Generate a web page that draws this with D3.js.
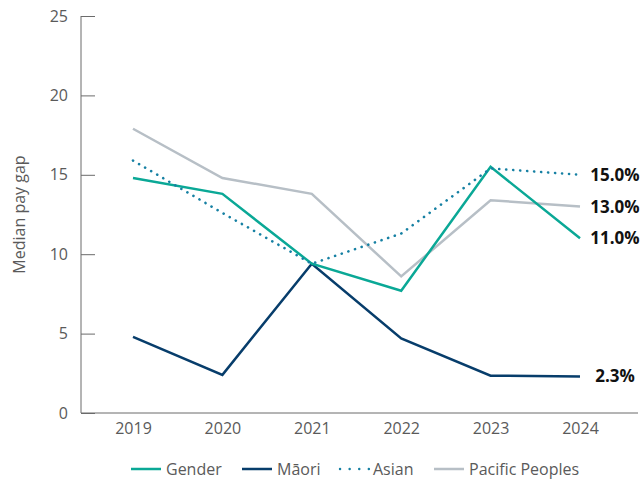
<!DOCTYPE html>
<html>
<head>
<meta charset="utf-8">
<script src="https://cdn.jsdelivr.net/npm/d3@7"></script>
<style>
  html, body { margin: 0; padding: 0; background: #fff; }
  svg { display: block; font-family: "Open Sans", "Noto Sans", sans-serif; }
</style>
</head>
<body>
<svg id="chart" width="643" height="479"></svg>
<script>
// Median pay gap by group, 2019–2024
const years = [2019, 2020, 2021, 2022, 2023, 2024];
const gender = [14.8, 13.8, 9.4, 7.7, 15.5, 11.0];
const maori = [4.8, 2.4, 9.4, 4.7, 2.35, 2.3];
const asian = [15.9, 12.6, 9.4, 11.3, 15.4, 15.0];
const pacific = [17.9, 14.8, 13.8, 8.6, 13.4, 13.0];
const yTicks = [0, 5, 10, 15, 20, 25];
const endLabels = ["11.0%", "2.3%", "15.0%", "13.0%"];

const series = [
  { name: "Gender", values: gender, color: "#0aa896", dash: null, label: endLabels[0] },
  { name: "Māori", values: maori, color: "#073d6b", dash: null, label: endLabels[1] },
  { name: "Asian", values: asian, color: "#1680a3", dash: "0.1,6.9", label: endLabels[2] },
  { name: "Pacific Peoples", values: pacific, color: "#b7bfc6", dash: null, label: endLabels[3] }
];

const svg = d3.select("#chart");
const plotLeft = 81, plotTop = 16, plotBottom = 413, axisRight = 638;

const x = d3.scaleLinear().domain([2019, 2024]).range([133, 580]);
const y = d3.scaleLinear().domain([0, 25]).range([plotBottom, plotTop]);

// y axis: line plus inward ticks
const yAxis = svg.append("g").attr("transform", `translate(${plotLeft},0)`)
  .call(d3.axisRight(y).tickValues(yTicks).tickSize(14).tickFormat(""));
yAxis.select(".domain").remove();
yAxis.selectAll(".tick line").attr("stroke", "#6b6b6b").attr("stroke-width", 1);
svg.append("line").attr("x1", plotLeft).attr("x2", plotLeft).attr("y1", plotTop).attr("y2", plotBottom)
  .attr("stroke", "#6b6b6b").attr("stroke-width", 1);
svg.append("g").selectAll("text").data(yTicks).join("text")
  .attr("x", 68).attr("y", d => y(d)).attr("dy", "0.35em")
  .attr("text-anchor", "end").attr("font-size", 16).attr("fill", "#5a5a5a")
  .text(d => d);

// x axis
svg.append("line").attr("x1", plotLeft).attr("x2", axisRight).attr("y1", plotBottom).attr("y2", plotBottom)
  .attr("stroke", "#6b6b6b").attr("stroke-width", 1);
const xAxis = svg.append("g").attr("transform", `translate(0,${plotBottom})`)
  .call(d3.axisBottom(x).tickValues(years).tickSize(0).tickPadding(10).tickFormat(d3.format("d")));
xAxis.select(".domain").remove();
xAxis.selectAll("text").attr("font-size", 16).attr("fill", "#5a5a5a")
  .attr("font-family", "'Open Sans', sans-serif");

// y axis title
svg.append("text")
  .attr("transform", `translate(25,${(plotTop + plotBottom) / 2}) rotate(-90)`)
  .attr("text-anchor", "middle").attr("font-size", 16).attr("fill", "#5a5a5a")
  .text("Median pay gap");

// lines
const line = d3.line().x((d, i) => x(years[i])).y(d => y(d));
const drawOrder = [series[3], series[1], series[0], series[2]];
svg.append("g").selectAll("path").data(drawOrder).join("path")
  .attr("d", s => line(s.values))
  .attr("fill", "none")
  .attr("stroke", s => s.color)
  .attr("stroke-width", s => s.dash ? 2.6 : 2.5)
  .attr("stroke-linecap", s => s.dash ? "round" : "butt")
  .attr("stroke-linejoin", "miter")
  .attr("stroke-dasharray", s => s.dash);

// end-of-line value labels
svg.append("g").selectAll("text").data(series).join("text")
  .attr("x", x(2024) + 35)
  .attr("y", s => y(s.values[s.values.length - 1]))
  .attr("dy", "0.35em")
  .attr("text-anchor", "middle")
  .attr("font-size", 17).attr("font-weight", 700).attr("fill", "#111")
  .text(s => s.label);

// legend
const legendItems = [
  { s: series[0], x0: 131 },
  { s: series[1], x0: 242 },
  { s: series[2], x0: 340 },
  { s: series[3], x0: 434 }
];
const lg = svg.append("g");
const ly = 469;
legendItems.forEach(it => {
  lg.append("line")
    .attr("x1", it.x0).attr("x2", it.x0 + 30).attr("y1", ly).attr("y2", ly)
    .attr("stroke", it.s.color).attr("stroke-width", it.s.dash ? 2.4 : 2.5)
    .attr("stroke-linecap", it.s.dash ? "round" : "butt")
    .attr("stroke-dasharray", it.s.dash ? "0.1,9.5" : null);
  lg.append("text")
    .attr("x", it.x0 + (it.s.dash ? 33 : 35)).attr("y", ly).attr("dy", "0.35em")
    .attr("font-size", 16).attr("fill", "#5a5a5a")
    .text(it.s.name);
});
</script>
</body>
</html>
